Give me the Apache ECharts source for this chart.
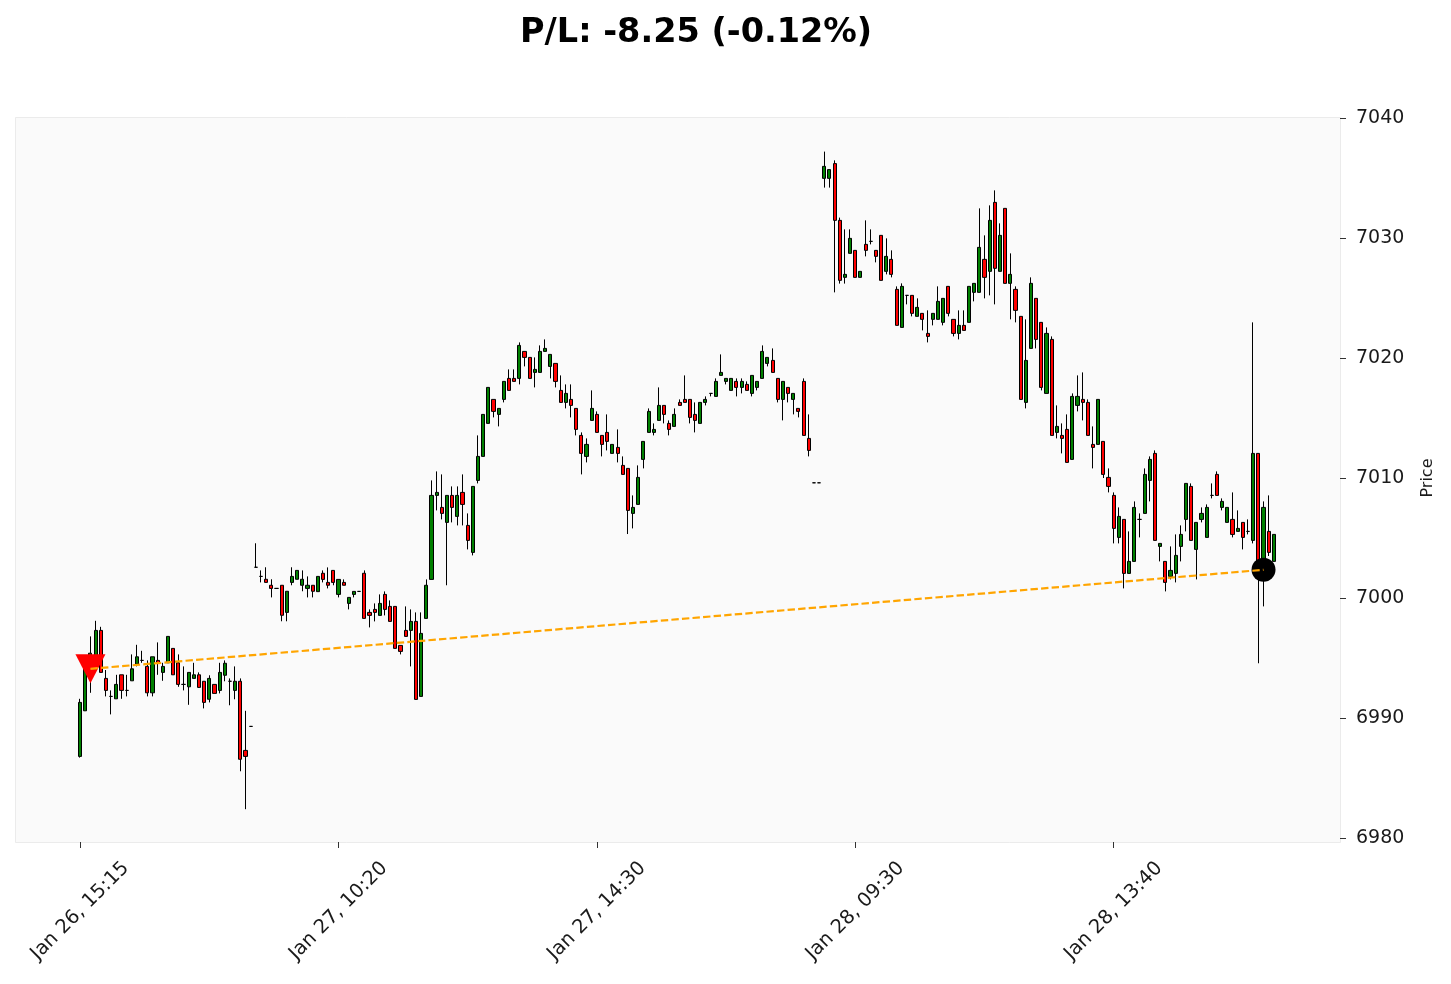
<!DOCTYPE html>
<html>
<head>
<meta charset="utf-8">
<script src="https://cdn.jsdelivr.net/npm/echarts@6/dist/echarts.min.js"></script>
<style>
html,body{margin:0;padding:0;background:#fff;}
#chart{width:1451px;height:984px;}
</style>
</head>
<body>
<div id="chart"></div>
<script>
// ---- data (one row per 5-minute bar: [open, high, low, close]) ----
const ohlc = [
[6986.8,6991.6,6986.7,6991.3],[6990.6,6994.5,6990.6,6994.5],[6994.6,6996.8,6992.1,6995.4],[6995.0,6998.1,6994.8,6997.3],
[6997.3,6997.6,6993.8,6993.8],[6993.3,6994.0,6991.8,6992.3],[6991.8,6992.3,6990.3,6991.8],[6991.6,6993.6,6991.6,6992.8],
[6993.6,6993.6,6991.6,6992.3],[6992.3,6993.6,6991.8,6992.3],[6993.1,6995.3,6993.1,6994.1],[6994.5,6996.1,6994.3,6995.1],
[6994.8,6995.6,6994.6,6994.8],[6994.3,6994.8,6991.8,6992.1],[6992.1,6995.1,6991.8,6995.1],[6994.8,6996.3,6993.6,6994.6],
[6993.8,6994.6,6993.1,6994.3],[6994.6,6996.8,6994.6,6996.8],[6995.8,6995.8,6993.6,6993.6],[6994.6,6995.3,6992.6,6992.8],
[6992.8,6994.3,6992.3,6992.8],[6992.6,6993.8,6991.1,6993.8],[6993.3,6994.6,6993.3,6993.6],[6993.6,6993.8,6992.5,6992.55],
[6993.06,6993.06,6990.8,6991.3],[6991.56,6993.56,6991.3,6993.3],[6992.8,6992.8,6992.05,6992.05],[6992.3,6994.6,6992.05,6993.8],
[6993.56,6994.8,6993.06,6994.56],[6993.06,6993.3,6991.06,6993.06],[6992.3,6994.3,6991.56,6993.06],[6993.06,6993.3,6985.56,6986.56],
[6987.3,6990.6,6982.4,6986.8],[6989.3,6989.3,6989.3,6989.3],[7002.56,7004.56,7002.56,7002.56],[7001.8,7002.3,7001.3,7001.8],
[7001.56,7002.56,7001.3,7001.3],[7001.06,7001.56,7000.05,7000.8],[7000.8,7000.8,7000.8,7000.8],[7001.06,7001.06,6998.06,6998.56],
[6998.8,7000.56,6998.06,7000.56],[7001.3,7002.56,7001.06,7001.8],[7001.56,7002.3,7001.56,7002.3],[7001.06,7002.3,7000.56,7001.56],
[7000.8,7001.8,7000.05,7001.06],[7001.06,7001.06,7000.05,7000.56],[7000.53,7001.8,7000.53,7001.8],[7002.06,7002.3,7001.3,7001.55],
[7001.3,7002.55,7000.8,7001.06],[7002.3,7002.3,7001.06,7001.3],[7000.3,7001.55,7000.05,7001.55],[7001.3,7001.55,7001.06,7001.06],
[6999.55,7000.05,6999.05,7000.05],[7000.3,7000.55,7000.05,7000.55],[7000.55,7000.55,7000.55,7000.55],[7002.06,7002.3,6998.3,6998.3],
[6998.8,6999.05,6997.55,6998.55],[6999.05,6999.55,6998.05,6998.8],[6998.55,7000.3,6998.55,6999.55],[7000.3,7000.55,6998.55,6999.05],
[6999.3,6999.8,6998.05,6998.05],[6999.3,6999.3,6995.8,6995.8],[6996.05,6996.05,6995.3,6995.55],[6997.3,6999.3,6996.8,6996.8],
[6997.3,6999.05,6994.3,6998.05],[6998.05,6998.8,6991.55,6991.55],[6991.8,6998.8,6991.8,6997.05],[6998.3,7001.55,6998.3,7001.06],
[7001.55,7009.8,7001.55,7008.55],[7008.55,7010.55,7007.3,7008.8],[7007.55,7010.3,7006.55,7007.05],[7006.3,7008.55,7001.06,7008.55],
[7008.55,7009.3,7006.3,7007.55],[7006.8,7009.3,7006.05,7008.55],[7008.8,7010.3,7006.05,7007.8],[7006.05,7007.05,7004.05,7004.8],
[7003.8,7009.3,7003.55,7009.3],[7009.8,7013.55,7009.55,7011.8],[7011.8,7015.3,7011.8,7015.3],[7014.55,7017.55,7014.55,7017.55],
[7016.55,7016.55,7015.05,7015.55],[7015.3,7015.8,7014.3,7015.8],[7016.55,7018.05,7016.3,7018.05],[7018.3,7019.05,7017.3,7017.3],
[7018.3,7019.05,7018.05,7018.05],[7018.3,7021.3,7017.8,7021.05],[7020.55,7020.55,7019.3,7020.05],[7020.05,7020.05,7018.3,7018.3],
[7018.8,7020.05,7017.55,7019.05],[7018.8,7021.05,7018.8,7020.55],[7020.55,7021.55,7020.55,7020.8],[7019.3,7020.3,7018.3,7020.3],
[7019.55,7019.55,7017.55,7018.05],[7017.3,7018.55,7016.3,7016.3],[7016.3,7017.8,7015.8,7017.05],[7016.55,7017.8,7015.05,7016.05],
[7015.8,7015.8,7013.55,7014.05],[7013.55,7013.8,7010.3,7012.05],[7011.8,7013.3,7011.3,7012.8],[7014.8,7017.3,7014.8,7015.8],
[7015.3,7015.55,7013.8,7013.8],[7013.55,7013.55,7011.8,7012.8],[7013.8,7015.3,7012.3,7013.05],[7012.05,7012.8,7012.05,7012.8],
[7012.55,7014.05,7011.3,7012.05],[7011.05,7011.8,7010.3,7010.3],[7010.8,7010.8,7005.33,7007.3],[7007.05,7008.55,7005.8,7007.55],
[7007.8,7011.05,7007.8,7010.05],[7011.55,7013.05,7010.8,7013.05],[7013.8,7015.8,7013.8,7015.55],[7013.8,7014.55,7013.55,7014.05],
[7014.8,7017.55,7014.8,7016.05],[7016.05,7016.05,7014.55,7015.3],[7014.55,7014.8,7013.55,7014.05],[7014.3,7015.8,7014.3,7015.3],
[7016.3,7016.55,7016.05,7016.05],[7016.55,7018.55,7016.3,7016.3],[7016.55,7016.55,7014.55,7015.05],[7015.3,7016.3,7013.8,7014.8],
[7014.55,7016.3,7014.55,7016.3],[7016.3,7016.8,7016.05,7016.55],[7017.05,7017.05,7016.8,7017.05],[7016.8,7018.3,7016.8,7018.05],
[7018.55,7020.3,7018.55,7018.8],[7018.05,7018.3,7017.8,7018.3],[7017.3,7018.3,7017.3,7018.3],[7018.05,7018.3,7016.8,7017.55],
[7017.55,7018.3,7017.05,7018.05],[7017.8,7018.05,7017.3,7017.3],[7017.05,7018.55,7016.8,7018.55],[7017.55,7018.05,7017.3,7018.05],
[7018.3,7021.05,7018.3,7020.55],[7019.55,7020.05,7019.3,7020.05],[7019.8,7020.8,7018.8,7018.8],[7018.3,7018.3,7016.3,7016.55],
[7016.55,7018.05,7014.8,7018.05],[7017.55,7017.55,7016.3,7017.05],[7016.55,7017.05,7015.3,7017.05],[7015.8,7015.8,7015.05,7015.55],
[7018.05,7018.3,7013.55,7013.55],[7013.3,7015.3,7011.8,7012.3],[7009.6,7009.6,7009.6,7009.6],[7009.6,7009.6,7009.6,7009.6],
[7034.97,7037.2,7034.2,7035.97],[7034.97,7035.7,7034.2,7035.7],[7036.2,7036.47,7025.47,7031.47],[7031.47,7031.7,7026.2,7026.47],
[7026.72,7030.72,7026.2,7026.97],[7028.72,7030.72,7028.72,7029.97],[7028.97,7028.97,7026.72,7026.72],[7026.72,7027.22,7026.72,7027.22],
[7029.47,7031.47,7028.47,7028.97],[7029.72,7030.72,7029.47,7029.72],[7028.97,7028.97,7027.97,7028.47],[7030.22,7030.22,7026.47,7026.47],
[7027.22,7029.97,7026.97,7028.47],[7028.22,7028.97,7026.72,7026.97],[7025.72,7025.97,7022.72,7022.72],[7022.55,7026.22,7022.55,7025.97],
[7025.22,7025.22,7024.47,7025.22],[7025.22,7025.22,7023.47,7023.72],[7023.47,7024.97,7023.47,7024.22],[7023.72,7023.72,7022.3,7023.22],
[7022.05,7023.97,7021.3,7021.8],[7023.22,7023.72,7022.72,7023.72],[7023.22,7025.97,7023.22,7024.72],[7022.97,7024.97,7022.72,7024.97],
[7025.97,7025.97,7023.47,7023.72],[7023.22,7023.22,7021.8,7022.05],[7022.05,7023.97,7021.55,7022.72],[7022.72,7023.97,7022.3,7022.3],
[7022.97,7025.97,7022.97,7025.97],[7025.47,7026.22,7024.72,7026.22],[7025.47,7032.47,7025.47,7029.22],[7028.22,7030.22,7024.97,7026.72],
[7027.22,7032.72,7025.22,7031.47],[7032.97,7033.97,7024.47,7027.47],[7027.22,7031.22,7027.22,7030.22],[7032.47,7032.47,7026.22,7026.22],
[7026.22,7028.72,7023.22,7026.97],[7025.72,7025.97,7022.97,7023.97],[7023.47,7023.47,7016.55,7016.55],[7016.3,7023.22,7015.8,7019.8],
[7020.8,7026.72,7020.8,7026.22],[7024.97,7024.97,7020.8,7021.55],[7022.97,7022.97,7017.3,7017.55],[7017.05,7022.55,7017.05,7022.05],
[7021.55,7021.8,7013.55,7013.55],[7013.8,7016.05,7013.3,7014.3],[7013.55,7014.55,7012.05,7013.3],[7014.05,7015.3,7011.3,7011.3],
[7011.55,7017.05,7011.55,7016.8],[7016.05,7018.55,7015.55,7016.8],[7016.55,7018.8,7014.8,7016.3],[7016.3,7016.55,7013.55,7013.55],
[7012.8,7014.3,7010.8,7012.55],[7012.8,7016.55,7012.8,7016.55],[7013.05,7013.05,7010.0,7010.3],[7010.05,7010.8,7008.8,7009.3],
[7008.55,7008.8,7004.55,7005.8],[7005.05,7007.55,7004.55,7006.8],[7006.55,7006.55,7000.8,7002.05],[7002.05,7005.55,7002.05,7003.05],
[7003.05,7008.05,7003.05,7007.55],[7006.55,7007.05,7005.05,7006.55],[7007.05,7010.8,7007.05,7010.3],[7009.8,7011.8,7008.05,7011.55],
[7012.05,7012.3,7004.8,7004.8],[7004.3,7004.55,7003.05,7004.55],[7003.05,7003.05,7000.55,7001.3],[7001.8,7004.3,7001.55,7002.3],
[7002.05,7005.3,7001.3,7003.55],[7004.3,7006.05,7003.05,7005.3],[7006.55,7009.55,7005.55,7009.55],[7009.3,7009.55,7004.8,7004.8],
[7004.05,7006.3,7001.55,7006.3],[7006.55,7007.55,7006.3,7007.05],[7005.05,7007.8,7005.05,7007.55],[7008.55,7009.55,7008.3,7008.55],
[7010.3,7010.55,7008.55,7008.55],[7007.55,7008.3,7007.3,7008.05],[7006.3,7007.55,7006.3,7007.55],[7006.55,7008.8,7005.05,7005.3],
[7005.55,7007.3,7005.55,7005.8],[7006.3,7006.3,7004.05,7005.05],[7005.55,7006.55,7005.3,7005.55],[7004.8,7022.97,7004.55,7012.05],
[7012.05,7012.05,6994.56,7003.0],[7002.5,7008.05,6999.3,7007.55],[7005.55,7008.55,7003.5,7003.8],[7003.05,7005.3,7003.05,7005.3]
];

// x-axis tick positions (bar index) and their labels
const tickIndices = [0, 50, 100, 150, 200];
const tickLabels = ["Jan 26, 15:15", "Jan 27, 10:20", "Jan 27, 14:30", "Jan 28, 09:30", "Jan 28, 13:40"];

// trade: short entry and exit
const entryIndex = 2, entryPrice = 6994.1;
const exitIndex = 229, exitPrice = 7002.35;
const titleText = "P/L: -8.25 (-0.12%)";

// ---- chart ----
const candleData = ohlc.map((r, i) => [i, r[0], r[3], r[2], r[1]]); // [x, open, close, low, high]
const FONT = "DejaVu Sans";

const chart = echarts.init(document.getElementById('chart'), null, {renderer: 'canvas'});
chart.setOption({
  animation: false,
  backgroundColor: '#ffffff',
  title: {
    text: titleText,
    left: 515, top: 11,
    textStyle: {fontFamily: FONT, fontWeight: 'bold', fontSize: 33.5, color: '#000'}
  },
  graphic: [{
    type: 'rect', z: -10, silent: true,
    shape: {x: 15.5, y: 117.5, width: 1325, height: 725},
    style: {fill: '#fafafa', stroke: '#ebebeb', lineWidth: 1}
  }],
  grid: {left: 15, right: 111, top: 118, bottom: 146, containLabel: false},
  xAxis: {
    type: 'value',
    min: -12.6, max: 243.8,
    offset: 4,
    splitLine: {show: false},
    axisLine: {show: false, onZero: false},
    axisTick: {show: true, length: 6, lineStyle: {color: '#333', width: 1}, customValues: tickIndices},
    axisLabel: {
      customValues: tickIndices,
      rotate: 45, align: 'center', verticalAlign: 'middle', margin: 69,
      fontFamily: FONT, fontSize: 19.5, color: '#1a1a1a',
      formatter: v => tickLabels[tickIndices.indexOf(Math.round(v))] || ''
    }
  },
  yAxis: {
    type: 'value', position: 'right',
    min: 6980, max: 7040, interval: 10,
    splitLine: {show: false},
    axisLine: {show: false, onZero: false},
    axisTick: {show: true, length: 6, lineStyle: {color: '#333', width: 1}},
    axisLabel: {fontFamily: FONT, fontSize: 19, color: '#1a1a1a', margin: 16, formatter: v => String(v)},
    name: 'Price', nameLocation: 'middle', nameRotate: 90, nameGap: 80,
    nameTextStyle: {fontFamily: FONT, fontSize: 16, color: '#1a1a1a'}
  },
  series: [
    {
      type: 'candlestick',
      data: candleData,
      barWidth: 3.6,
      z: 2,
      itemStyle: {
        color: '#008000', color0: '#ff0000',
        borderColor: '#000', borderColor0: '#000', borderColorDoji: '#000',
        borderWidth: 1
      }
    },
    {
      type: 'scatter', z: 4,
      symbol: 'triangle', symbolRotate: 180, symbolSize: [30, 29],
      itemStyle: {color: '#ff0000', opacity: 1},
      data: [[entryIndex, entryPrice]]
    },
    {
      type: 'scatter', z: 4,
      symbol: 'circle', symbolSize: 24,
      itemStyle: {color: '#000000', opacity: 1},
      data: [[exitIndex, exitPrice]]
    },
    {
      type: 'line', z: 6,
      showSymbol: false, symbol: 'none',
      lineStyle: {color: '#FFA500', width: 2.2, type: [7.4, 3.2]},
      data: [[entryIndex, entryPrice], [exitIndex, exitPrice]]
    }
  ]
});
</script>
</body>
</html>
